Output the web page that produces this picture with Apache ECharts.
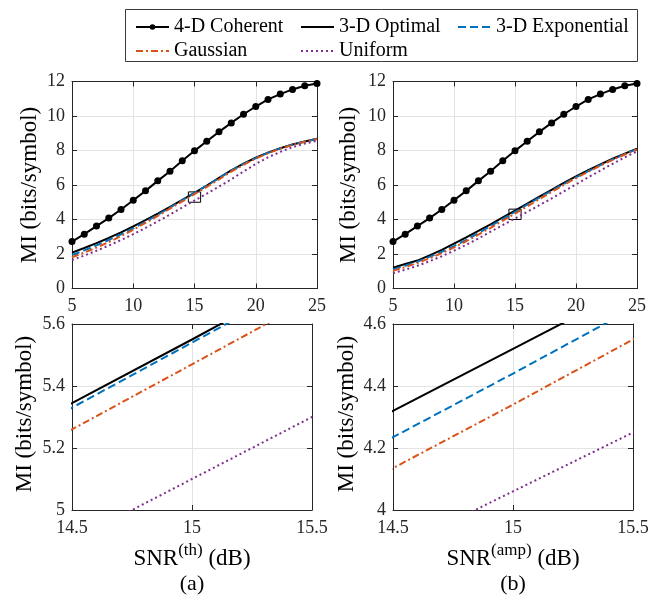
<!DOCTYPE html>
<html>
<head>
<meta charset="utf-8">
<script src="https://cdn.jsdelivr.net/npm/echarts@6/dist/echarts.min.js"></script>
<style>
  html, body { margin: 0; padding: 0; background: #fff; }
  #chart { width: 661px; height: 595px; }
</style>
</head>
<body>
<div id="chart"></div>
<script>
// SNR grid (dB)
const snr = [5, 6, 7, 8, 9, 10, 11, 12, 13, 14, 15, 16, 17, 18, 19, 20, 21, 22, 23, 24, 25];

// 4-D coherent reference (same in both panels)
const coherent = [2.72, 3.15, 3.62, 4.08, 4.58, 5.12, 5.66, 6.24, 6.80, 7.40, 7.98, 8.54, 9.08, 9.60, 10.10, 10.55, 10.96, 11.27, 11.54, 11.75, 11.88];

// (a) thermal-noise limited
const optimalTh     = [2.08, 2.35, 2.63, 2.93, 3.25, 3.60, 3.96, 4.34, 4.73, 5.14, 5.55, 5.97, 6.42, 6.85, 7.24, 7.58, 7.88, 8.13, 8.35, 8.52, 8.68];
const exponentialTh = [1.94, 2.21, 2.50, 2.81, 3.14, 3.49, 3.87, 4.27, 4.69, 5.12, 5.54, 5.96, 6.40, 6.83, 7.22, 7.56, 7.87, 8.12, 8.34, 8.52, 8.67];
const gaussianTh    = [1.81, 2.08, 2.37, 2.69, 3.04, 3.41, 3.80, 4.21, 4.63, 5.05, 5.47, 5.89, 6.33, 6.77, 7.17, 7.53, 7.84, 8.10, 8.33, 8.51, 8.67];
const uniformTh     = [1.65, 1.91, 2.19, 2.49, 2.81, 3.15, 3.51, 3.89, 4.29, 4.70, 5.10, 5.50, 5.91, 6.33, 6.78, 7.22, 7.60, 7.92, 8.19, 8.40, 8.57];

// (b) amplifier-noise limited
const optimalAmp     = [1.20, 1.42, 1.62, 1.92, 2.24, 2.60, 2.96, 3.34, 3.72, 4.12, 4.52, 4.92, 5.32, 5.72, 6.12, 6.50, 6.86, 7.20, 7.52, 7.82, 8.10];
const exponentialAmp = [1.10, 1.32, 1.56, 1.83, 2.13, 2.46, 2.82, 3.21, 3.62, 4.03, 4.44, 4.86, 5.27, 5.67, 6.06, 6.44, 6.80, 7.15, 7.48, 7.79, 8.08];
const gaussianAmp    = [1.02, 1.24, 1.48, 1.75, 2.05, 2.38, 2.74, 3.12, 3.52, 3.93, 4.34, 4.76, 5.18, 5.60, 6.01, 6.40, 6.77, 7.12, 7.46, 7.77, 8.06];
const uniformAmp     = [0.88, 1.09, 1.32, 1.58, 1.87, 2.19, 2.53, 2.90, 3.29, 3.68, 4.06, 4.44, 4.83, 5.22, 5.63, 6.04, 6.44, 6.84, 7.23, 7.60, 7.95];

// Axis ranges and tick steps
const fullX = [5, 25], fullXStep = 5;
const fullY = [0, 12], fullYStep = 2;
const zoomX = [14.5, 15.5], zoomXStep = 0.5;
const zoomYTh = [5, 5.6], zoomYAmp = [4, 4.6], zoomYStep = 0.2;

const names = ['4-D Coherent', '3-D Optimal', '3-D Exponential', 'Gaussian', 'Uniform'];
const yTitle = 'MI (bits/symbol)';

const FONT = "'Liberation Serif', 'DejaVu Serif', serif";
const AXIS = '#262626';

const styles = {
  '4-D Coherent':    { color: '#000000', type: 'solid', symbol: 'circle' },
  '3-D Optimal':     { color: '#000000', type: 'solid' },
  '3-D Exponential': { color: '#0072BD', type: [8, 4] },
  'Gaussian':        { color: '#D95319', type: [7, 3, 2, 3] },
  'Uniform':         { color: '#7E2F8E', type: [2, 3] }
};

const grids = [
  { left: 72,  top: 81.5, width: 245, height: 207 },
  { left: 393, top: 81.5, width: 244, height: 207 },
  { left: 72,  top: 324,  width: 240, height: 186 },
  { left: 393, top: 324,  width: 240, height: 186 }
];

const fmt = v => String(+(+v).toFixed(1));

function mainX(gi, r, step) {
  return {
    type: 'value', gridIndex: gi, min: r[0], max: r[1], interval: step, position: 'bottom',
    axisLine: { show: true, onZero: false, lineStyle: { color: AXIS, width: 1 } },
    axisTick: { show: true, inside: true, length: 5, lineStyle: { color: AXIS } },
    axisLabel: { show: true, margin: 9, color: AXIS, fontFamily: FONT, fontSize: 18, formatter: fmt },
    splitLine: { show: true, lineStyle: { color: '#e3e3e3', width: 1 } }
  };
}
function mirrorX(gi, r, step) {
  return {
    type: 'value', gridIndex: gi, min: r[0], max: r[1], interval: step, position: 'top',
    axisLine: { show: true, onZero: false, lineStyle: { color: AXIS, width: 1 } },
    axisTick: { show: true, inside: true, length: 5, lineStyle: { color: AXIS } },
    axisLabel: { show: false }, splitLine: { show: false }
  };
}
function mainY(gi, r, step) {
  return {
    type: 'value', gridIndex: gi, min: r[0], max: r[1], interval: step, position: 'left',
    axisLine: { show: true, onZero: false, lineStyle: { color: AXIS, width: 1 } },
    axisTick: { show: true, inside: true, length: 5, lineStyle: { color: AXIS } },
    axisLabel: { show: true, margin: 7, color: AXIS, fontFamily: FONT, fontSize: 18, formatter: fmt },
    splitLine: { show: true, lineStyle: { color: '#e3e3e3', width: 1 } }
  };
}
function mirrorY(gi, r, step) {
  return {
    type: 'value', gridIndex: gi, min: r[0], max: r[1], interval: step, position: 'right',
    axisLine: { show: true, onZero: false, lineStyle: { color: AXIS, width: 1 } },
    axisTick: { show: true, inside: true, length: 5, lineStyle: { color: AXIS } },
    axisLabel: { show: false }, splitLine: { show: false }
  };
}

const xAxes = [
  mainX(0, fullX, fullXStep), mainX(1, fullX, fullXStep), mainX(2, zoomX, zoomXStep), mainX(3, zoomX, zoomXStep),
  mirrorX(0, fullX, fullXStep), mirrorX(1, fullX, fullXStep), mirrorX(2, zoomX, zoomXStep), mirrorX(3, zoomX, zoomXStep)
];
const yAxes = [
  mainY(0, fullY, fullYStep), mainY(1, fullY, fullYStep), mainY(2, zoomYTh, zoomYStep), mainY(3, zoomYAmp, zoomYStep),
  mirrorY(0, fullY, fullYStep), mirrorY(1, fullY, fullYStep), mirrorY(2, zoomYTh, zoomYStep), mirrorY(3, zoomYAmp, zoomYStep)
];

function line(name, ys, gi, extra) {
  const s = styles[name];
  return Object.assign({
    type: 'line', name: name, xAxisIndex: gi, yAxisIndex: gi,
    data: snr.map((x, i) => [x, ys[i]]),
    symbol: s.symbol || 'none', symbolSize: 7, showSymbol: !!s.symbol,
    itemStyle: { color: s.color },
    lineStyle: { color: s.color, width: 2, type: s.type, cap: 'butt' },
    clip: true, silent: true, animation: false
  }, extra || {});
}

// Rectangle on the overview panels marking the zoomed window
function zoomBox(yr) {
  return {
    silent: true,
    itemStyle: { color: 'rgba(0,0,0,0)', borderColor: '#000', borderWidth: 1 },
    data: [[{ xAxis: zoomX[0], yAxis: yr[0] }, { xAxis: zoomX[1], yAxis: yr[1] }]]
  };
}

const panels = [
  { gi: 0, sets: [coherent, optimalTh, exponentialTh, gaussianTh, uniformTh], box: zoomYTh },
  { gi: 1, sets: [coherent, optimalAmp, exponentialAmp, gaussianAmp, uniformAmp], box: zoomYAmp },
  { gi: 2, sets: [coherent, optimalTh, exponentialTh, gaussianTh, uniformTh] },
  { gi: 3, sets: [coherent, optimalAmp, exponentialAmp, gaussianAmp, uniformAmp] }
];

const series = [];
panels.forEach(p => {
  p.sets.forEach((ys, k) => {
    const extra = (p.box && k === 4) ? { markArea: zoomBox(p.box) } : null;
    series.push(line(names[k], ys, p.gi, extra));
  });
});

// Legend entries: only the coherent curve carries a marker in its key
function legendItem(name) {
  if (styles[name].symbol) return { name: name };
  return { name: name, itemStyle: { color: 'rgba(0,0,0,0)', borderWidth: 0, opacity: 0 } };
}

const legendBase = {
  orient: 'vertical', top: 12, itemWidth: 33, itemHeight: 7, itemGap: 4,
  selectedMode: false,
  textStyle: { fontFamily: FONT, fontSize: 20, color: '#000', lineHeight: 20 }
};

function yTitleText(x, y) {
  return {
    type: 'text', x: x, y: y, rotation: Math.PI / 2, silent: true,
    style: { text: yTitle, font: '23px ' + FONT, fill: '#000', align: 'center', verticalAlign: 'middle' }
  };
}
function xTitleText(x, y, sup) {
  return {
    type: 'text', x: x, y: y, silent: true,
    style: {
      text: '{a|SNR}{b|(' + sup + ')}{a| (dB)}', align: 'center', verticalAlign: 'middle',
      rich: {
        a: { fontFamily: FONT, fontSize: 23, color: '#000', lineHeight: 28, verticalAlign: 'bottom' },
        b: { fontFamily: FONT, fontSize: 17, color: '#000', lineHeight: 28, verticalAlign: 'top' }
      }
    }
  };
}
function captionText(x, y, t) {
  return {
    type: 'text', x: x, y: y, silent: true,
    style: { text: t, font: '22px ' + FONT, fill: '#000', align: 'center', verticalAlign: 'middle' }
  };
}

const option = {
  backgroundColor: '#ffffff',
  animation: false,
  grid: grids,
  xAxis: xAxes,
  yAxis: yAxes,
  legend: [
    Object.assign({}, legendBase, { left: 130, data: [legendItem(names[0]), legendItem(names[3])] }),
    Object.assign({}, legendBase, { left: 295, data: [legendItem(names[1]), legendItem(names[4])] }),
    Object.assign({}, legendBase, { left: 452, data: [legendItem(names[2])] })
  ],
  graphic: [
    { type: 'rect', silent: true, z: 0,
      shape: { x: 125.5, y: 9.5, width: 512, height: 52 },
      style: { fill: '#fff', stroke: '#3a3a3a', lineWidth: 1 } },
    yTitleText(30, 185),
    yTitleText(349, 185),
    yTitleText(25, 414),
    yTitleText(347, 414),
    xTitleText(192, 556, 'th'),
    xTitleText(513, 556, 'amp'),
    captionText(192, 584, '(a)'),
    captionText(513, 584, '(b)')
  ],
  series: series
};

const chart = echarts.init(document.getElementById('chart'), null, { renderer: 'canvas' });
chart.setOption(option);
</script>
</body>
</html>
